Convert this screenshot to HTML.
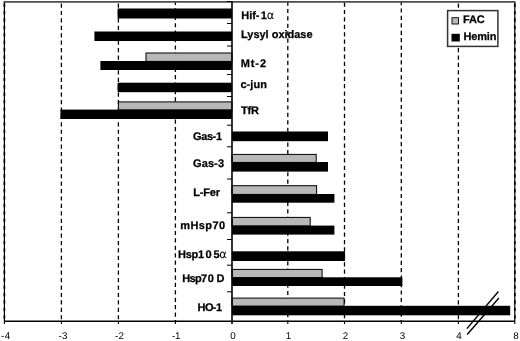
<!DOCTYPE html>
<html><head><meta charset="utf-8"><title>chart</title>
<style>html,body{margin:0;padding:0;background:#fff}svg{display:block}text{font-family:"Liberation Sans",sans-serif;fill:#000;text-rendering:geometricPrecision}.b{font-weight:bold;font-size:11px;stroke:#000;stroke-width:0.25px}.al{stroke:none}.a{font-size:9.8px}.al{font-weight:normal;font-size:11.5px;font-family:"DejaVu Sans",sans-serif}</style></head><body>
<svg width="520" height="341" viewBox="0 0 520 341">
<rect width="520" height="341" fill="#fff"/>
<line x1="61.4" y1="2" x2="61.4" y2="321" stroke="#000" stroke-width="1.3" stroke-dasharray="4.2 3.22" stroke-dashoffset="-1.5"/>
<line x1="118.4" y1="2" x2="118.4" y2="321" stroke="#000" stroke-width="1.3" stroke-dasharray="4.2 3.22" stroke-dashoffset="-1.5"/>
<line x1="175.4" y1="2" x2="175.4" y2="321" stroke="#000" stroke-width="1.3" stroke-dasharray="4.2 3.22" stroke-dashoffset="1.1"/>
<line x1="287.8" y1="2" x2="287.8" y2="321" stroke="#000" stroke-width="1.3" stroke-dasharray="4.2 3.22" stroke-dashoffset="0.5"/>
<line x1="344.5" y1="2" x2="344.5" y2="321" stroke="#000" stroke-width="1.3" stroke-dasharray="4.2 3.22" stroke-dashoffset="-0.5"/>
<line x1="401.3" y1="2" x2="401.3" y2="321" stroke="#000" stroke-width="1.3" stroke-dasharray="4.2 3.22" stroke-dashoffset="1.0"/>
<line x1="458.4" y1="2" x2="458.4" y2="321" stroke="#000" stroke-width="1.3" stroke-dasharray="4.2 3.22" stroke-dashoffset="-1.5"/>
<line x1="4.4" y1="1.5" x2="4.4" y2="321" stroke="#000" stroke-width="1.2"/>
<line x1="4.4" y1="2" x2="4.4" y2="321" stroke="#000" stroke-width="1.7" stroke-dasharray="3.4 4.02" stroke-dashoffset="-1.5"/>
<line x1="514.8" y1="1.5" x2="514.8" y2="321" stroke="#000" stroke-width="1.2"/>
<line x1="514.8" y1="2" x2="514.8" y2="321" stroke="#000" stroke-width="1.7" stroke-dasharray="3.4 4.02" stroke-dashoffset="-1.5"/>
<line x1="3.6" y1="1.9" x2="515.4" y2="1.9" stroke="#4d4d4d" stroke-width="1.6"/>
<rect x="117.6" y="8.5" width="114.4" height="10.0" fill="#000"/>
<rect x="94.4" y="31.5" width="137.6" height="9.5" fill="#000"/>
<rect x="146.0" y="53.0" width="86.0" height="8.4" fill="#b8b8b8" stroke="#000" stroke-width="1"/>
<rect x="100.4" y="61.0" width="131.6" height="9.0" fill="#000"/>
<rect x="117.6" y="82.7" width="114.4" height="9.5" fill="#000"/>
<rect x="118.4" y="101.9" width="113.6" height="8.1" fill="#b8b8b8" stroke="#000" stroke-width="1"/>
<rect x="60.4" y="109.6" width="171.6" height="9.4" fill="#000"/>
<rect x="232.0" y="131.5" width="96.0" height="9.7" fill="#000"/>
<rect x="232.0" y="154.4" width="84.2" height="8.0" fill="#b8b8b8" stroke="#000" stroke-width="1"/>
<rect x="232.0" y="162.0" width="96.0" height="9.6" fill="#000"/>
<rect x="232.0" y="185.70000000000002" width="84.6" height="8.7" fill="#b8b8b8" stroke="#000" stroke-width="1"/>
<rect x="232.0" y="194.0" width="102.4" height="8.7" fill="#000"/>
<rect x="232.0" y="217.4" width="78.2" height="8.6" fill="#b8b8b8" stroke="#000" stroke-width="1"/>
<rect x="232.0" y="225.6" width="102.4" height="9.0" fill="#000"/>
<rect x="232.0" y="251.3" width="113.0" height="9.7" fill="#000"/>
<rect x="232.0" y="269.4" width="90.1" height="8.3" fill="#b8b8b8" stroke="#000" stroke-width="1"/>
<rect x="232.0" y="277.3" width="170.4" height="8.7" fill="#000"/>
<rect x="232.0" y="298.09999999999997" width="112.1" height="8.1" fill="#b8b8b8" stroke="#000" stroke-width="1"/>
<rect x="232.0" y="305.8" width="278.2" height="9.5" fill="#000"/>
<line x1="232.0" y1="1.5" x2="232.0" y2="324" stroke="#000" stroke-width="1.6"/>
<line x1="4" y1="321.3" x2="515" y2="321.3" stroke="#000" stroke-width="1.6"/>
<line x1="227" y1="1.5" x2="232.0" y2="1.5" stroke="#000" stroke-width="1"/>
<line x1="227" y1="23.5" x2="232.0" y2="23.5" stroke="#000" stroke-width="1"/>
<line x1="227" y1="46" x2="232.0" y2="46" stroke="#000" stroke-width="1"/>
<line x1="227" y1="74.5" x2="232.0" y2="74.5" stroke="#000" stroke-width="1"/>
<line x1="227" y1="96.5" x2="232.0" y2="96.5" stroke="#000" stroke-width="1"/>
<line x1="227" y1="125.2" x2="232.0" y2="125.2" stroke="#000" stroke-width="1"/>
<line x1="227" y1="146.8" x2="232.0" y2="146.8" stroke="#000" stroke-width="1"/>
<line x1="227" y1="179" x2="232.0" y2="179" stroke="#000" stroke-width="1"/>
<line x1="227" y1="212.8" x2="232.0" y2="212.8" stroke="#000" stroke-width="1"/>
<line x1="227" y1="239.5" x2="232.0" y2="239.5" stroke="#000" stroke-width="1"/>
<line x1="227" y1="265.2" x2="232.0" y2="265.2" stroke="#000" stroke-width="1"/>
<line x1="227" y1="291.8" x2="232.0" y2="291.8" stroke="#000" stroke-width="1"/>
<line x1="4.4" y1="321" x2="4.4" y2="324" stroke="#000" stroke-width="1.1"/>
<line x1="61.4" y1="321" x2="61.4" y2="324" stroke="#000" stroke-width="1.1"/>
<line x1="118.4" y1="321" x2="118.4" y2="324" stroke="#000" stroke-width="1.1"/>
<line x1="175.4" y1="321" x2="175.4" y2="324" stroke="#000" stroke-width="1.1"/>
<line x1="287.8" y1="321" x2="287.8" y2="324" stroke="#000" stroke-width="1.1"/>
<line x1="344.5" y1="321" x2="344.5" y2="324" stroke="#000" stroke-width="1.1"/>
<line x1="401.3" y1="321" x2="401.3" y2="324" stroke="#000" stroke-width="1.1"/>
<line x1="458.4" y1="321" x2="458.4" y2="324" stroke="#000" stroke-width="1.1"/>
<line x1="514.8" y1="321" x2="514.8" y2="324" stroke="#000" stroke-width="1.1"/>
<line x1="466.9" y1="328.6" x2="498.4" y2="291.5" stroke="#000" stroke-width="1.4"/>
<line x1="467.2" y1="334.5" x2="498.9" y2="298" stroke="#000" stroke-width="1.4"/>
<rect x="447.6" y="10.6" width="50.3" height="35.8" fill="#fff" stroke="#333" stroke-width="1.5"/>
<rect x="452" y="17.7" width="6.5" height="6.3" fill="#b8b8b8" stroke="#000" stroke-width="0.9"/>
<rect x="451.5" y="33.8" width="8.3" height="7.7" fill="#000"/>
<text class="b" x="463" y="23.4" textLength="21.6" lengthAdjust="spacing">FAC</text>
<text class="b" x="463.4" y="40.4" textLength="33" lengthAdjust="spacing">Hemin</text>
<text class="b" x="241.2" y="19">Hif-<tspan dx="1.2">1</tspan><tspan class="al">α</tspan></text>
<text class="b" x="241" y="38" textLength="71.6" lengthAdjust="spacing">Lysyl oxidase</text>
<text class="b" x="240.7" y="67" textLength="25.3" lengthAdjust="spacing">Mt-2</text>
<text class="b" x="240.4" y="87.6" textLength="26.6" lengthAdjust="spacing">c-jun</text>
<text class="b" x="241" y="114.4" textLength="18" lengthAdjust="spacing">TfR</text>
<text class="b" x="193" y="140" textLength="29" lengthAdjust="spacing">Gas-1</text>
<text class="b" x="193" y="167" textLength="31" lengthAdjust="spacing">Gas-3</text>
<text class="b" x="193.3" y="196.2" textLength="26.7" lengthAdjust="spacing">L-Fer</text>
<text class="b" x="180.3" y="229.4" textLength="44.7" lengthAdjust="spacing">mHsp70</text>
<text class="b" x="178.0" y="258.4" dx="0 -0.3 -0.3 -0.3 1.5 1.9 -0.4">Hsp105<tspan class="al">α</tspan></text>
<text class="b" x="182.3" y="282" dx="0 -0.7 -0.7 -0.8 0.7 2.6">Hsp70D</text>
<text class="b" x="197.6" y="310.5" textLength="24.4" lengthAdjust="spacing">HO-1</text>
<text class="a" x="1.1" y="338.6" textLength="9" lengthAdjust="spacing">-4</text>
<text class="a" x="58.5" y="338.6" textLength="9" lengthAdjust="spacing">-3</text>
<text class="a" x="115" y="338.6" textLength="9" lengthAdjust="spacing">-2</text>
<text class="a" x="172" y="338.6" textLength="8.5" lengthAdjust="spacing">-1</text>
<text class="a" x="233" y="338.6" text-anchor="middle">0</text>
<text class="a" x="288.4" y="338.6" text-anchor="middle">1</text>
<text class="a" x="345.4" y="338.6" text-anchor="middle">2</text>
<text class="a" x="402.4" y="338.6" text-anchor="middle">3</text>
<text class="a" x="459" y="338.6" text-anchor="middle">4</text>
<text class="a" x="516" y="338.6" text-anchor="middle">8</text>
</svg></body></html>
